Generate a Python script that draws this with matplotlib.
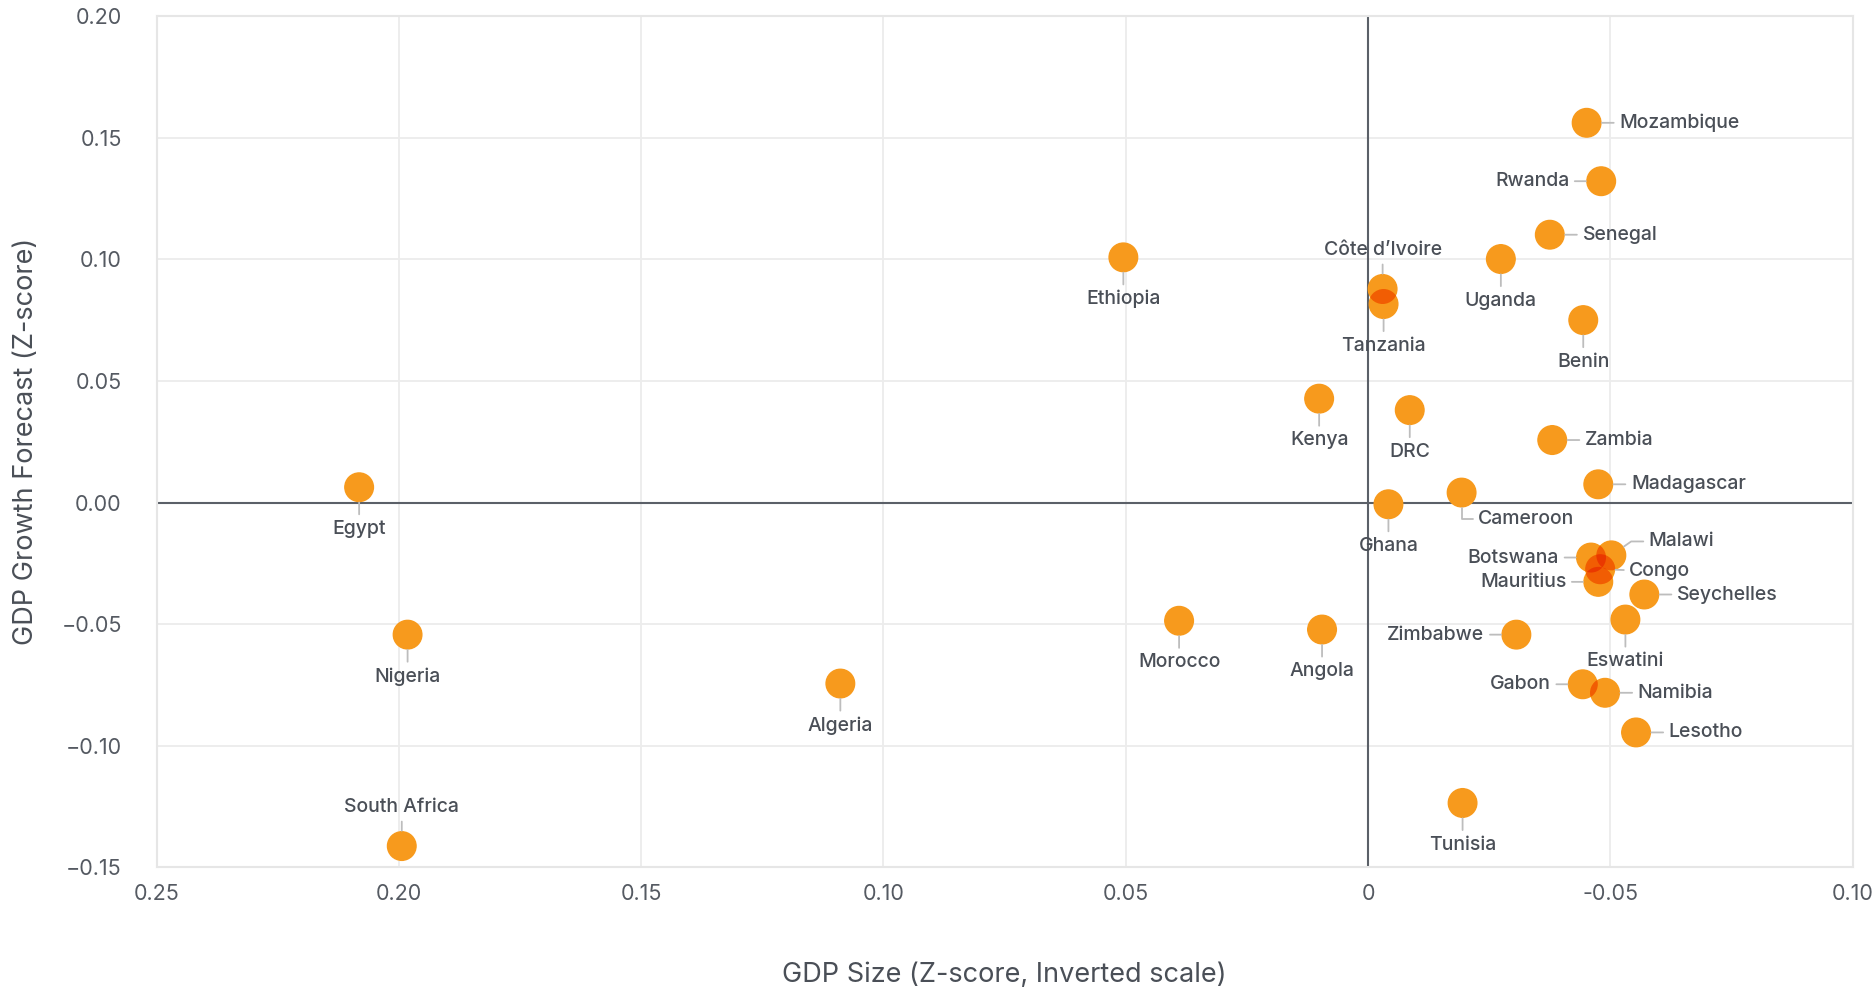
import numpy as np
import matplotlib
matplotlib.use("Agg")
import matplotlib.pyplot as plt

# ---------------- data ----------------
countries = ["Mozambique", "Rwanda", "Senegal", "Uganda", "Côte d\u2019Ivoire", "Tanzania",
             "Benin", "Ethiopia", "Kenya", "DRC", "Zambia", "Madagascar", "Cameroon",
             "Ghana", "Egypt", "Botswana", "Malawi", "Congo", "Mauritius", "Seychelles",
             "Eswatini", "Zimbabwe", "Gabon", "Namibia", "Lesotho", "Angola", "Morocco",
             "Nigeria", "Algeria", "South Africa", "Tunisia"]
gdp_size = [-0.0451, -0.0481, -0.0375, -0.0274, -0.0030, -0.0032,
            -0.0444, 0.0505, 0.0101, -0.0086, -0.0380, -0.0475, -0.0193,
            -0.0042, 0.2082, -0.0460, -0.0502, -0.0479, -0.0475, -0.0570,
            -0.0531, -0.0306, -0.0443, -0.0489, -0.0553, 0.0095, 0.0390,
            0.1982, 0.1089, 0.1994, -0.0195]
gdp_growth = [0.1561, 0.1321, 0.1101, 0.1001, 0.0878, 0.0816,
              0.0750, 0.1008, 0.0427, 0.0380, 0.0257, 0.0075, 0.0041,
              -0.0007, 0.0063, -0.0226, -0.0217, -0.0274, -0.0326, -0.0378,
              -0.0481, -0.0543, -0.0747, -0.0782, -0.0945, -0.0522, -0.0486,
              -0.0543, -0.0744, -0.1412, -0.1235]

x_ticks = [0.25, 0.20, 0.15, 0.10, 0.05, 0.0, -0.05, -0.10]
x_tick_labels = ["0.25", "0.20", "0.15", "0.10", "0.05", "0", "-0.05", "0.10"]
y_ticks = [0.20, 0.15, 0.10, 0.05, 0.0, -0.05, -0.10, -0.15]
y_tick_labels = ["0.20", "0.15", "0.10", "0.05", "0.00", "\u22120.05", "\u22120.10", "\u22120.15"]

x_title = "GDP Size (Z-score, Inverted scale)"
y_title = "GDP Growth Forecast (Z-score)"

# label placement (style only)
placement = {
    "Mozambique": "right", "Senegal": "right", "Zambia": "right", "Madagascar": "right",
    "Seychelles": "right", "Namibia": "right", "Lesotho": "right", "Congo": "right_close",
    "Rwanda": "left", "Botswana": "left", "Mauritius": "left", "Zimbabwe": "left",
    "Gabon": "left",
    "Côte d\u2019Ivoire": "above", "South Africa": "above",
    "Cameroon": "elbow", "Malawi": "diag",
}

# ---------------- style ----------------
FONT = ["Inter", "DejaVu Sans"]
plt.rcParams["font.family"] = FONT
TEXT_C = "#4a4f57"
TICK_C = "#555a62"
BASE = np.array([248, 155, 30]) / 255.0
A = 0.5


def multiply_filter(img, dpi):
    """Emulate multiply blending of the translucent markers."""
    a = img[..., 3]
    if a.max() > 0.99:          # already processed
        return img, 0, 0
    alpha = np.clip(a, 0.0, 0.999)
    n = np.log(1.0 - alpha) / np.log(1.0 - A)
    cov = np.clip(n * 1.01, 0.0, 1.0)
    k = np.maximum(n, 1.0)[..., None]
    out = np.empty_like(img)
    out[..., :3] = BASE[None, None, :] ** k
    out[..., 3] = cov
    return out, 0, 0


fig = plt.figure(figsize=(18.75, 9.89), dpi=100)
ax = fig.add_axes([0.0835, 0.1229, 0.9046, 0.8609])

ax.set_xlim(0.25, -0.10)
ax.set_ylim(-0.15, 0.20)
ax.set_xticks(x_ticks)
ax.set_xticklabels(x_tick_labels)
ax.set_yticks(y_ticks)
ax.set_yticklabels(y_tick_labels)
ax.tick_params(length=0, labelsize=15.5, labelcolor=TICK_C)
ax.tick_params(axis="y", pad=25)
ax.tick_params(axis="x", pad=12)
ax.grid(True, color="#ececec", lw=1.3)
ax.set_axisbelow(True)
for s in ax.spines.values():
    s.set_color("#e6e6e6")
    s.set_linewidth(1.5)

ax.axhline(0, color="#5b6068", lw=1.5, zorder=1.5)
ax.axvline(0, color="#5b6068", lw=1.5, zorder=1.5)

sc = ax.scatter(gdp_size, gdp_growth, s=470, c=[BASE], alpha=A,
                edgecolors="none", zorder=3)
sc.set_agg_filter(multiply_filter)

lead = dict(arrowstyle="-", color="#bdbdbd", lw=1.3, shrinkA=2, shrinkB=11)
for name, x, y in zip(countries, gdp_size, gdp_growth):
    mode = placement.get(name, "below")
    kw = dict(xy=(x, y), textcoords="offset points", fontsize=14,
              color=TEXT_C, zorder=4, fontweight="medium")
    if mode == "below":
        ax.annotate(name, xytext=(0, -23.5), ha="center", va="top",
                    arrowprops=lead, **kw)
    elif mode == "above":
        ax.annotate(name, xytext=(0, 24.5), ha="center", va="baseline",
                    arrowprops=lead, **kw)
    elif mode == "right":
        ax.annotate(name, xytext=(23.5, 0), ha="left", va="center",
                    arrowprops=lead, **kw)
    elif mode == "right_close":
        ax.annotate(name, xytext=(21, -1.5), ha="left", va="center",
                    arrowprops=lead, **kw)
    elif mode == "left":
        ax.annotate(name, xytext=(-23, 0), ha="right", va="center",
                    arrowprops=lead, **kw)
    elif mode == "elbow":
        ap = dict(lead, relpos=(0, 0.5),
                  connectionstyle="angle,angleA=0,angleB=90,rad=0")
        ax.annotate(name, xytext=(12, -19), ha="left", va="center",
                    arrowprops=ap, **kw)
    elif mode == "diag":
        ap = dict(lead, relpos=(0, 0.5),
                  connectionstyle="angle,angleA=0,angleB=35,rad=0")
        ax.annotate(name, xytext=(27, 10), ha="left", va="center",
                    arrowprops=ap, **kw)

ax.set_xlabel(x_title, fontsize=19.5, color=TEXT_C)
ax.xaxis.set_label_coords(0.5, -0.126)
ax.xaxis.label.set_va("center")
ax.set_ylabel(y_title, fontsize=19.5, color=TEXT_C)
ax.yaxis.set_label_coords(-0.077, 0.5)
ax.yaxis.label.set_va("center")

fig.savefig("out.png", dpi=100, facecolor="white")
